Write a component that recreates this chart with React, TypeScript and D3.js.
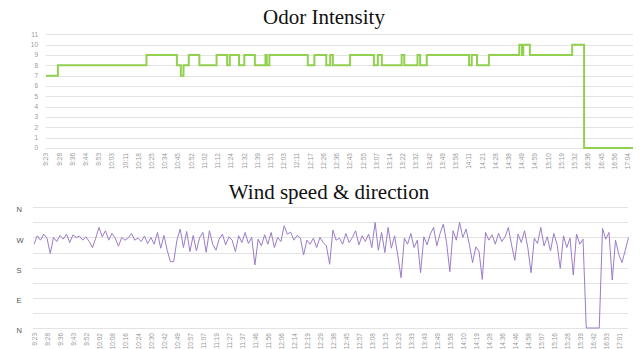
import { useEffect, useRef } from "react";
import * as d3 from "d3";

// Odor intensity: step series, one run per level change (sample index, level)
const odorRunStart = [
  0, 9, 76, 99, 102, 104, 108, 116, 129, 137, 139, 146, 150, 158, 166, 167,
  169, 198, 203, 212, 215, 217, 230, 248, 251, 254, 269, 271, 281, 283, 288,
  320, 322, 326, 335, 358, 360, 361, 366, 398, 407,
];
const odorRunValue = [
  7, 8, 9, 8, 7, 8, 9, 8, 9, 8, 9, 8, 9, 8, 9, 8, 9, 8, 9, 8, 9, 8, 9, 8, 9,
  8, 9, 8, 9, 8, 9, 8, 9, 8, 9, 10, 9, 10, 9, 10, 0,
];
const odorLastSample = 444;
const odorLabelEvery = 10;
const odorTimeLabels = [
  "9:23", "9:28", "9:36", "9:44", "9:53", "10:03", "10:11", "10:18", "10:25",
  "10:34", "10:45", "10:52", "11:02", "11:12", "11:24", "11:32", "11:39",
  "11:51", "12:03", "12:11", "12:17", "12:26", "12:36", "12:43", "12:55",
  "13:07", "13:14", "13:22", "13:32", "13:42", "13:49", "13:58", "14:11",
  "14:21", "14:28", "14:38", "14:49", "14:59", "15:10", "15:19", "15:32",
  "16:36", "16:45", "16:56", "17:04",
];
const odorTicks = [0, 1, 2, 3, 4, 5, 6, 7, 8, 9, 10, 11];

// Wind direction in degrees (0 = N, 90 = E, 180 = S, 270 = W)
const windDirection = [
  250, 275, 262, 280, 268, 222, 270, 258, 276, 265,
  280, 255, 278, 270, 274, 262, 272, 258, 240, 268,
  300, 272, 290, 262, 282, 268, 244, 270, 262, 268,
  282, 262, 268, 258, 274, 252, 270, 250, 285, 238,
  276, 232, 198, 198, 262, 295, 240, 288, 228, 276,
  230, 270, 285, 226, 290, 250, 232, 265, 280, 248,
  272, 262, 228, 275, 255, 285, 252, 270, 188, 265,
  245, 278, 250, 285, 240, 270, 258, 305, 280, 286,
  262, 276, 268, 218, 262, 250, 268, 240, 270, 255,
  245, 190, 292, 262, 268, 250, 282, 255, 270, 290,
  248, 275, 258, 280, 240, 315, 232, 285, 225, 300,
  238, 275, 215, 150, 268, 250, 282, 240, 262, 165,
  272, 248, 280, 300, 245, 282, 310, 255, 168, 290,
  262, 315, 270, 295, 250, 195, 242, 228, 145, 285,
  262, 278, 250, 282, 258, 272, 300, 248, 202, 280,
  255, 290, 240, 165, 268, 252, 300, 245, 272, 230,
  282, 250, 178, 275, 240, 268, 158, 280, 250, 265,
  0, 0, 0, 0, 0, 297, 265, 285, 143, 262,
  220, 195, 232, 270,
];
const windLabelEvery = 4;
const windTimeLabels = [
  "9:23", "9:28", "9:36", "9:43", "9:52", "10:02", "10:08", "10:16", "10:24",
  "10:30", "10:42", "10:49", "10:57", "11:07", "11:19", "11:27", "11:37",
  "11:46", "11:56", "12:06", "12:14", "12:19", "12:29", "12:38", "12:45",
  "12:57", "13:08", "13:15", "13:23", "13:33", "13:43", "13:49", "13:58",
  "14:10", "14:19", "14:28", "14:36", "14:46", "14:58", "15:07", "15:16",
  "15:28", "15:39", "16:42", "16:53", "17:01",
];
const windGridTicks = [0, 45, 90, 135, 180, 225, 270, 315, 360];
const windLabelTicks = [0, 90, 180, 270, 360];
const windLabelNames = ["N", "E", "S", "W", "N"];

const App = () => {
  const svgRef = useRef<SVGSVGElement | null>(null);

  useEffect(() => {
    const width = 640;
    const height = 349;
    const svg = d3.select(svgRef.current).attr("width", width).attr("height", height);
    svg.selectAll("*").remove();

    const gridColor = "#e3e3e3";
    const labelFont = "'Liberation Sans', Arial, sans-serif";
    const titleFont = "'Liberation Serif', 'Times New Roman', serif";

    // ---------- Odor Intensity ----------
    const x1 = d3.scaleLinear().domain([0, odorLastSample]).range([46, 633]);
    const y1 = d3.scaleLinear().domain([0, 11]).range([148, 34.3]);

    svg
      .append("text")
      .attr("x", 324)
      .attr("y", 24)
      .attr("text-anchor", "middle")
      .style("font-family", titleFont)
      .style("font-size", "21px")
      .style("fill", "#111")
      .text("Odor Intensity");

    const g1 = svg.append("g");
    g1.selectAll(".grid")
      .data(odorTicks)
      .enter()
      .append("line")
      .attr("x1", x1.range()[0])
      .attr("x2", x1.range()[1])
      .attr("y1", (d) => Math.round(y1(d)) + 0.5)
      .attr("y2", (d) => Math.round(y1(d)) + 0.5)
      .style("stroke", gridColor)
      .style("stroke-width", 1);

    g1.selectAll(".ylab")
      .data(odorTicks)
      .enter()
      .append("text")
      .attr("x", 38)
      .attr("y", (d) => y1(d))
      .attr("dy", "0.35em")
      .attr("text-anchor", "end")
      .style("font-family", labelFont)
      .style("font-size", "6.5px")
      .style("fill", "#9a9a9a")
      .text((d) => d);

    g1.selectAll(".xlab")
      .data(odorTimeLabels)
      .enter()
      .append("text")
      .attr("transform", (_d, i) => `translate(${x1(i * odorLabelEvery)},153) rotate(-90)`)
      .attr("dy", "0.35em")
      .attr("text-anchor", "end")
      .style("font-family", labelFont)
      .style("font-size", "6.5px")
      .style("fill", "#9a9a9a")
      .text((d) => d);

    const odorPoints: [number, number][] = odorRunStart.map((s, i) => [s, odorRunValue[i]]);
    odorPoints.push([odorLastSample, odorRunValue[odorRunValue.length - 1]]);

    const odorLine = d3
      .line<[number, number]>()
      .x((d) => x1(d[0]))
      .y((d) => y1(d[1]))
      .curve(d3.curveStepAfter);

    g1.append("path")
      .datum(odorPoints)
      .attr("d", odorLine)
      .style("fill", "none")
      .style("stroke", "#92d050")
      .style("stroke-width", 2);

    // ---------- Wind speed & direction ----------
    const x2 = d3.scaleLinear().domain([0, windDirection.length - 1]).range([34, 628.5]);
    const y2 = d3.scaleLinear().domain([0, 360]).range([328, 207.3]);

    svg
      .append("text")
      .attr("x", 329)
      .attr("y", 199)
      .attr("text-anchor", "middle")
      .style("font-family", titleFont)
      .style("font-size", "21px")
      .style("fill", "#111")
      .text("Wind speed & direction");

    const g2 = svg.append("g");
    g2.selectAll(".grid")
      .data(windGridTicks)
      .enter()
      .append("line")
      .attr("x1", 33)
      .attr("x2", 628)
      .attr("y1", (d) => Math.round(y2(d)) + 0.5)
      .attr("y2", (d) => Math.round(y2(d)) + 0.5)
      .style("stroke", gridColor)
      .style("stroke-width", 1);

    g2.selectAll(".ylab")
      .data(windLabelTicks)
      .enter()
      .append("text")
      .attr("x", 16.5)
      .attr("y", (d) => y2(d) + 2.5)
      .attr("dy", "0.35em")
      .style("font-family", labelFont)
      .style("font-size", "7.5px")
      .style("fill", "#555")
      .text((_d, i) => windLabelNames[i]);

    g2.selectAll(".xlab")
      .data(windTimeLabels)
      .enter()
      .append("text")
      .attr("transform", (_d, i) => `translate(${x2(i * windLabelEvery) + 1},333) rotate(-90)`)
      .attr("dy", "0.35em")
      .attr("text-anchor", "end")
      .style("font-family", labelFont)
      .style("font-size", "6.5px")
      .style("fill", "#9a9a9a")
      .text((d) => d);

    const windLine = d3
      .line<number>()
      .x((_d, i) => x2(i))
      .y((d) => y2(d));

    g2.append("path")
      .datum(windDirection)
      .attr("d", windLine)
      .style("fill", "none")
      .style("stroke", "#9b7cc8")
      .style("stroke-width", 1);
  }, []);

  return (
    <div style={{ position: "absolute", left: 0, top: 0 }}>
      <svg ref={svgRef} style={{ display: "block", background: "#fff" }}></svg>
    </div>
  );
};

export default App;
